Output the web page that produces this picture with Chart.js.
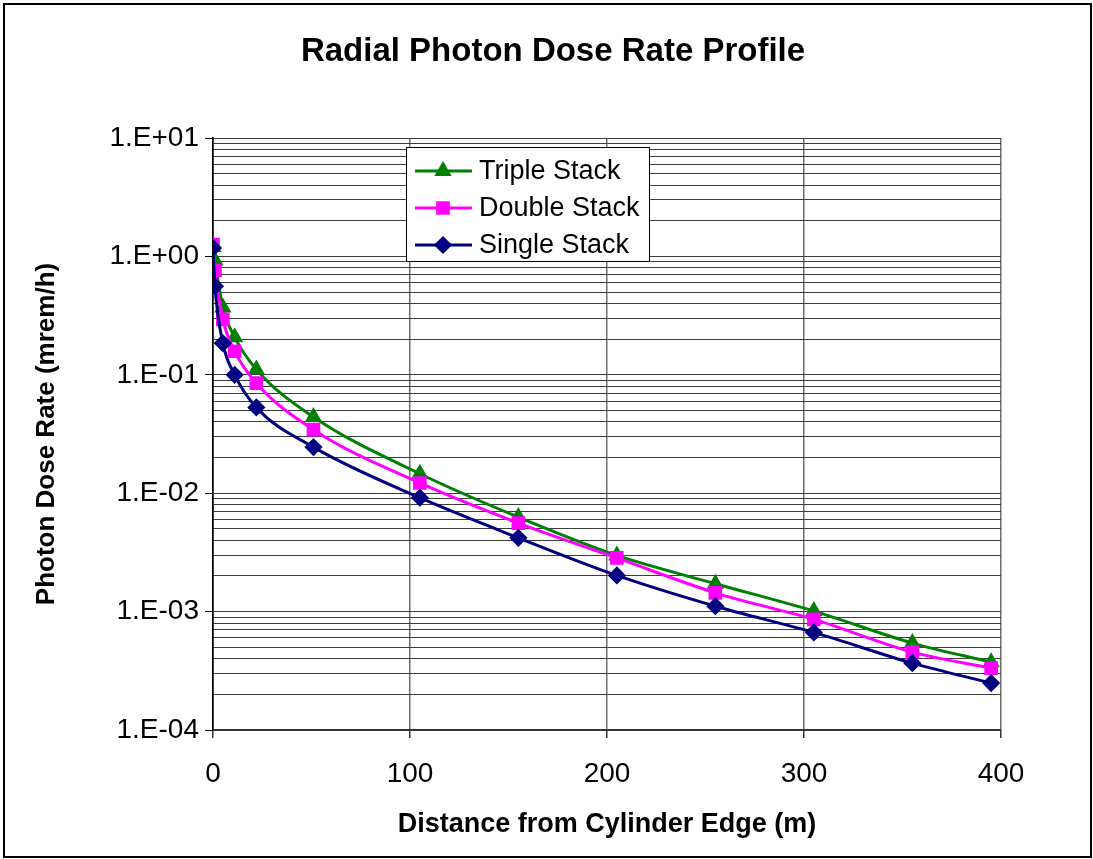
<!DOCTYPE html>
<html>
<head>
<meta charset="utf-8">
<script src="https://cdn.jsdelivr.net/npm/chart.js@4.4.1/dist/chart.umd.min.js"></script>
<style>
  html, body { margin: 0; padding: 0; background: #fff; }
  #wrap { width: 1093px; height: 859px; position: relative; }
</style>
</head>
<body>
<div id="wrap"><canvas id="doseChart" width="1093" height="859"></canvas></div>
<script>
// distance from cylinder edge (m)
const distance = [0, 1, 5, 11, 22, 51, 105, 155, 205, 255, 305, 355, 395];

// photon dose rate (mrem/h)
const tripleStack = [1.2, 0.925, 0.371, 0.208, 0.111, 0.044, 0.0146, 0.00628, 0.00298, 0.00172, 0.00101, 0.000542, 0.000374];
const doubleStack = [1.26, 0.76, 0.294, 0.158, 0.085, 0.0344, 0.0122, 0.00559, 0.00284, 0.00144, 0.00086, 0.000455, 0.000333];
const singleStack = [1.18, 0.56, 0.185, 0.10, 0.053, 0.0245, 0.00916, 0.0042, 0.00202, 0.00111, 0.000667, 0.000367, 0.000249];

const decadeValues = [1e-4, 1e-3, 1e-2, 1e-1, 1, 10];
const decadeLabels = ['1.E-04', '1.E-03', '1.E-02', '1.E-01', '1.E+00', '1.E+01'];
const xTicks = [0, 100, 200, 300, 400];

const FONT = '"Liberation Sans", Arial, sans-serif';
Chart.defaults.font.family = FONT;
Chart.defaults.color = '#000';

function toPoints(ys) {
  return distance.map((d, i) => ({ x: d, y: ys[i] }));
}

function isDecade(v) {
  return decadeValues.some(d => Math.abs(Math.log10(v) - Math.log10(d)) < 1e-6);
}

const seriesStyle = [
  { label: 'Triple Stack', data: tripleStack, color: '#008000', style: 'triangle', radius: 7, order: 3 },
  { label: 'Double Stack', data: doubleStack, color: '#FF00FF', style: 'rect', radius: 7.5, order: 2 },
  { label: 'Single Stack', data: singleStack, color: '#000080', style: 'rectRot', radius: 7, order: 1 }
];

// title, outer frame and the in-plot legend box
const decorPlugin = {
  id: 'decor',
  beforeDraw(chart) {
    const ctx = chart.ctx;
    ctx.save();
    ctx.fillStyle = '#fff';
    ctx.fillRect(0, 0, chart.width, chart.height);
    ctx.strokeStyle = '#000';
    ctx.lineWidth = 2;
    ctx.strokeRect(4, 4, 1087, 853);
    ctx.fillStyle = '#000';
    ctx.font = 'bold 33px ' + FONT;
    ctx.textAlign = 'center';
    ctx.textBaseline = 'middle';
    ctx.fillText('Radial Photon Dose Rate Profile', 553, 52);
    ctx.restore();
  },
  afterDraw(chart) {
    const ctx = chart.ctx;
    ctx.save();
    ctx.fillStyle = '#fff';
    ctx.fillRect(406, 147, 244, 115);
    ctx.strokeStyle = '#000';
    ctx.lineWidth = 1;
    ctx.strokeRect(406.5, 147.5, 243, 114);
    const rows = [171, 208, 245];
    seriesStyle.forEach((s, i) => {
      const y = rows[i];
      ctx.strokeStyle = s.color;
      ctx.lineWidth = 3;
      ctx.beginPath();
      ctx.moveTo(415, y);
      ctx.lineTo(472, y);
      ctx.stroke();
      ctx.fillStyle = s.color;
      Chart.helpers.drawPoint(ctx, { pointStyle: s.style, radius: s.radius, rotation: 0, borderWidth: 1 }, 443, y);
      ctx.fillStyle = '#000';
      ctx.font = '27px ' + FONT;
      ctx.textAlign = 'left';
      ctx.textBaseline = 'middle';
      ctx.fillText(s.label, 479, y + 1);
    });
    ctx.restore();
  }
};

new Chart(document.getElementById('doseChart'), {
  type: 'line',
  data: {
    datasets: seriesStyle.map(s => ({
      label: s.label,
      data: toPoints(s.data),
      borderColor: s.color,
      backgroundColor: s.color,
      pointBackgroundColor: s.color,
      pointBorderColor: s.color,
      pointStyle: s.style,
      pointRadius: s.radius,
      borderWidth: 3,
      fill: false,
      cubicInterpolationMode: 'monotone',
      order: s.order
    }))
  },
  options: {
    responsive: false,
    animation: false,
    devicePixelRatio: 1,
    layout: { padding: { top: 138, right: 92, bottom: 0, left: 0 } },
    plugins: {
      legend: { display: false },
      title: { display: false },
      tooltip: { enabled: false }
    },
    scales: {
      x: {
        type: 'linear',
        min: 0,
        max: 400,
        afterBuildTicks: scale => { scale.ticks = xTicks.map(v => ({ value: v })); },
        afterFit: scale => { scale.height = 129; },
        ticks: { font: { size: 28 }, padding: 19, maxRotation: 0 },
        grid: {
          color: c => (c.tick && c.tick.value === 0) ? '#000' : '#6e6e6e',
          lineWidth: 1.5,
          tickLength: 8,
          tickColor: '#333'
        },
        border: { color: '#333', width: 2 },
        title: {
          display: true,
          text: 'Distance from Cylinder Edge (m)',
          font: { size: 27, weight: 'bold' },
          padding: { top: 0, bottom: 18 }
        }
      },
      y: {
        type: 'logarithmic',
        min: 1e-4,
        max: 10,
        afterBuildTicks: scale => {
          const ticks = [];
          decadeValues.forEach((d, i) => {
            if (i === decadeValues.length - 1) { ticks.push({ value: d, major: true }); return; }
            for (let k = 1; k <= 9; k++) ticks.push({ value: d * k, major: k === 1 });
          });
          scale.ticks = ticks;
        },
        afterFit: scale => { scale.width = 213; },
        ticks: {
          autoSkip: false,
          font: { size: 28 },
          padding: 6,
          callback: v => {
            const i = decadeValues.findIndex(d => Math.abs(Math.log10(v) - Math.log10(d)) < 1e-6);
            return i >= 0 ? decadeLabels[i] : '';
          }
        },
        grid: {
          color: '#3c3c3c',
          lineWidth: 1,
          tickLength: 8,
          tickColor: c => (c.tick && isDecade(c.tick.value)) ? '#000' : 'rgba(0,0,0,0)'
        },
        border: { color: '#000', width: 1.5 },
        title: {
          display: true,
          text: 'Photon Dose Rate (mrem/h)',
          font: { size: 26, weight: 'bold' },
          padding: { top: 31, bottom: 0 }
        }
      }
    }
  },
  plugins: [decorPlugin]
});
</script>
</body>
</html>
